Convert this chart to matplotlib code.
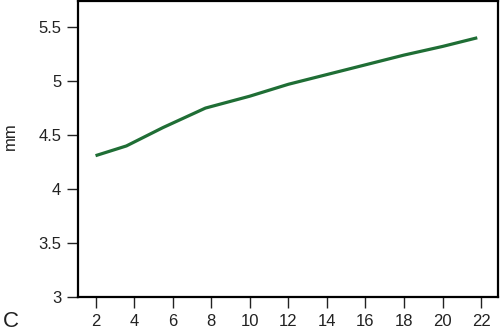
import matplotlib
matplotlib.use("Agg")
import matplotlib.pyplot as plt

plt.rcParams['font.family'] = ['Liberation Sans', 'DejaVu Sans']

# data
x_vals = [2, 3.6, 5.5, 7.7, 10, 12, 14, 16, 18, 20, 21.8]
y_vals = [4.31, 4.40, 4.57, 4.75, 4.86, 4.97, 5.06, 5.15, 5.24, 5.32, 5.40]
x_ticks = [2, 4, 6, 8, 10, 12, 14, 16, 18, 20, 22]
y_ticks = [3, 3.5, 4, 4.5, 5, 5.5]
y_ticklabels = ['3', '3.5', '4', '4.5', '5', '5.5']

fig = plt.figure(figsize=(5.02, 3.33), dpi=100)
ax = fig.add_axes([0.155, 0.107, 0.838, 0.89])

ax.plot(x_vals, y_vals, color='#1f6e35', linewidth=2.3, solid_capstyle='butt')

ax.set_xlim(1.08, 22.9)
ax.set_ylim(3, 5.74)
ax.set_xticks(x_ticks)
ax.set_yticks(y_ticks)
ax.set_yticklabels(y_ticklabels)
ax.tick_params(direction='out', length=8, width=1, labelsize=12, colors='#222222')
ax.tick_params(axis='x', pad=4)
ax.tick_params(axis='y', pad=4)
for s in ax.spines.values():
    s.set_linewidth(1.6)
    s.set_color('black')

fig.text(0.02, 0.59, 'mm', rotation=90, fontsize=12, ha='center', va='center', color='#222222')
fig.text(0.006, 0.034, 'C', fontsize=16, ha='left', va='center', color='#222222')

fig.savefig('out.png', dpi=100)
